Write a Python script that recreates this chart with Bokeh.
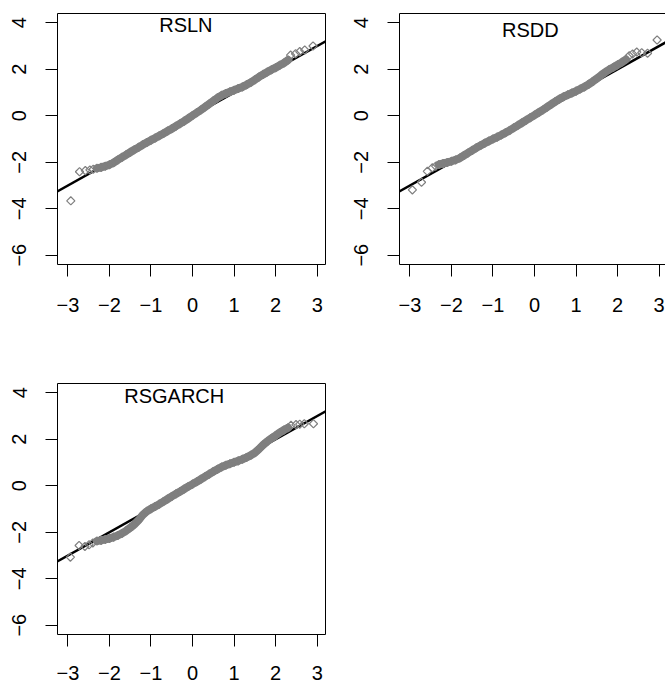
import math
from bokeh.plotting import figure
from bokeh.models import FixedTicker, Label, Slope, LinearAxis, Range1d
from bokeh.layouts import column, row
from bokeh.embed import file_html
from bokeh.resources import INLINE

# ---------------- data ----------------
x_ticks = [-3, -2, -1, 0, 1, 2, 3]
x_tick_labels = ["\u22123", "\u22122", "\u22121", "0", "1", "2", "3"]
y_ticks = [-6, -4, -2, 0, 2, 4]
y_tick_labels = ["\u22126", "\u22124", "\u22122", "0", "2", "4"]

panel_names = ["RSLN", "RSDD", "RSGARCH"]

# theoretical quantiles of the dense part of each Q-Q plot
band_q = [-2.3, -2.2, -2.1, -2.0, -1.9, -1.8, -1.7, -1.6, -1.5, -1.4, -1.3, -1.2,
          -1.1, -1.0, -0.9, -0.8, -0.7, -0.6, -0.5, -0.4, -0.3, -0.2, -0.1, 0.0,
          0.1, 0.2, 0.3, 0.4, 0.5, 0.6, 0.7, 0.8, 0.9, 1.0, 1.1, 1.2, 1.3, 1.4,
          1.5, 1.6, 1.7, 1.8, 1.9, 2.0, 2.1, 2.2, 2.3]

# sample quantiles
rsln_band = [-2.26, -2.22, -2.17, -2.11, -2.02, -1.90, -1.79, -1.68, -1.57, -1.46, -1.36, -1.25,
             -1.15, -1.05, -0.96, -0.86, -0.76, -0.66, -0.56, -0.45, -0.34, -0.23, -0.11, 0.01,
             0.13, 0.25, 0.38, 0.51, 0.64, 0.77, 0.88, 0.96, 1.03, 1.10, 1.17, 1.24, 1.33, 1.43,
             1.55, 1.67, 1.78, 1.88, 1.98, 2.07, 2.17, 2.27, 2.40]
rsln_tail_q = [-2.93, -2.72, -2.58, -2.47, -2.39, 2.36, 2.48, 2.58, 2.70, 2.90]
rsln_tail_s = [-3.66, -2.41, -2.36, -2.33, -2.30, 2.61, 2.67, 2.76, 2.83, 3.00]

rsdd_band = [-2.10, -2.05, -2.01, -1.96, -1.90, -1.82, -1.71, -1.60, -1.49, -1.38, -1.28, -1.18,
             -1.09, -1.00, -0.92, -0.83, -0.73, -0.63, -0.52, -0.41, -0.30, -0.19, -0.08, 0.03,
             0.14, 0.25, 0.37, 0.49, 0.61, 0.72, 0.82, 0.90, 0.98, 1.06, 1.15, 1.24, 1.35, 1.47,
             1.60, 1.74, 1.87, 1.99, 2.09, 2.19, 2.30, 2.42]
rsdd_tail_q = [-2.94, -2.72, -2.58, -2.46, -2.38, 2.28, 2.36, 2.46, 2.58, 2.72, 2.95]
rsdd_tail_s = [-3.19, -2.86, -2.39, -2.24, -2.17, 2.58, 2.66, 2.74, 2.71, 2.69, 3.26]

rsgarch_band = [-2.38, -2.35, -2.31, -2.27, -2.21, -2.14, -2.05, -1.94, -1.81, -1.66, -1.48, -1.26,
                -1.10, -0.99, -0.89, -0.79, -0.68, -0.57, -0.46, -0.35, -0.25, -0.14, -0.03, 0.07,
                0.17, 0.28, 0.39, 0.50, 0.61, 0.71, 0.81, 0.88, 0.95, 1.01, 1.07, 1.14, 1.22, 1.31,
                1.42, 1.58, 1.76, 1.91, 2.04, 2.16, 2.29, 2.40, 2.50]
rsgarch_tail_q = [-2.94, -2.73, -2.59, -2.49, -2.40, 2.37, 2.49, 2.58, 2.69, 2.91]
rsgarch_tail_s = [-3.07, -2.57, -2.61, -2.54, -2.46, 2.60, 2.63, 2.65, 2.67, 2.67]

# reference line (qqline) of each panel
line_slope = [1.0, 1.0, 1.0]
line_intercept = [0.0, 0.0, 0.0]

# ---------------- style ----------------
GRAY = "#7f7f7f"
FONT = "Liberation Sans"
FS = "20px"


def make_panel(i, band_x, band_y, tail_x, tail_y, xr, width, height,
               bl, br, bt, bb, title_x, title_y, xstand=21, open_right=False):
    p = figure(width=width, height=height,
               x_range=Range1d(*xr), y_range=Range1d(-6.4, 4.4),
               output_backend="svg", toolbar_location=None,
               min_border_left=bl, min_border_right=br,
               min_border_top=bt, min_border_bottom=bb,
               background_fill_color="white", border_fill_color="white")
    p.grid.visible = False

    p.xaxis.ticker = FixedTicker(ticks=x_ticks)
    p.xaxis.major_label_overrides = {t: l for t, l in zip(x_ticks, x_tick_labels)}
    p.yaxis.ticker = FixedTicker(ticks=y_ticks)
    p.yaxis.major_label_overrides = {t: l for t, l in zip(y_ticks, y_tick_labels)}
    p.yaxis.major_label_orientation = "vertical"

    for ax in (p.xaxis, p.yaxis):
        ax.minor_tick_line_color = None
        ax.major_tick_out = 12
        ax.major_tick_in = 0
        ax.major_tick_line_color = "black"
        ax.major_tick_line_width = 1
        ax.major_label_text_font = FONT
        ax.major_label_text_font_size = FS
        ax.major_label_text_color = "black"
    p.xaxis.major_label_standoff = xstand
    p.yaxis.major_label_standoff = 19

    if open_right:
        p.outline_line_color = None
        p.xaxis.axis_line_color = "black"
        p.yaxis.axis_line_color = "black"
        top = LinearAxis(ticker=FixedTicker(ticks=[]), axis_line_color="black",
                         major_tick_line_color=None, minor_tick_line_color=None,
                         major_label_text_font_size="0px")
        p.add_layout(top, "above")
    else:
        p.outline_line_color = "black"
        p.outline_line_width = 1
        p.xaxis.axis_line_color = None
        p.yaxis.axis_line_color = None

    p.add_layout(Slope(gradient=line_slope[i], y_intercept=line_intercept[i],
                       line_color="black", line_width=2.5, level="underlay"))

    p.line(band_x, band_y, line_color=GRAY, line_width=8, line_join="round", line_cap="round")
    p.scatter(list(band_x) + list(tail_x), list(band_y) + list(tail_y),
              marker="square", angle=math.pi / 4, size=5.8,
              fill_color=None, line_color=GRAY, line_width=1.2)

    p.add_layout(Label(x=title_x, y=title_y, text=panel_names[i],
                       text_font=FONT, text_font_size=FS, text_color="black",
                       text_align="center", text_baseline="alphabetic"))
    return p


p1 = make_panel(0, band_q, rsln_band, rsln_tail_q, rsln_tail_s,
                (-3.25, 3.2), 343, 378, 57, 18, 13, 114, -0.16, 3.89)
p2 = make_panel(1, band_q[:46], rsdd_band, rsdd_tail_q, rsdd_tail_s,
                (-3.25, 3.152), 322, 378, 56, 0, 13, 114, -0.10, 3.67, open_right=True)
p3 = make_panel(2, band_q, rsgarch_band, rsgarch_tail_q, rsgarch_tail_s,
                (-3.25, 3.2), 343, 310, 57, 18, 5, 54, -0.44, 3.87, xstand=19)

layout = column(row(p1, p2), p3)

open("out.html", "w").write(file_html(layout, INLINE))
